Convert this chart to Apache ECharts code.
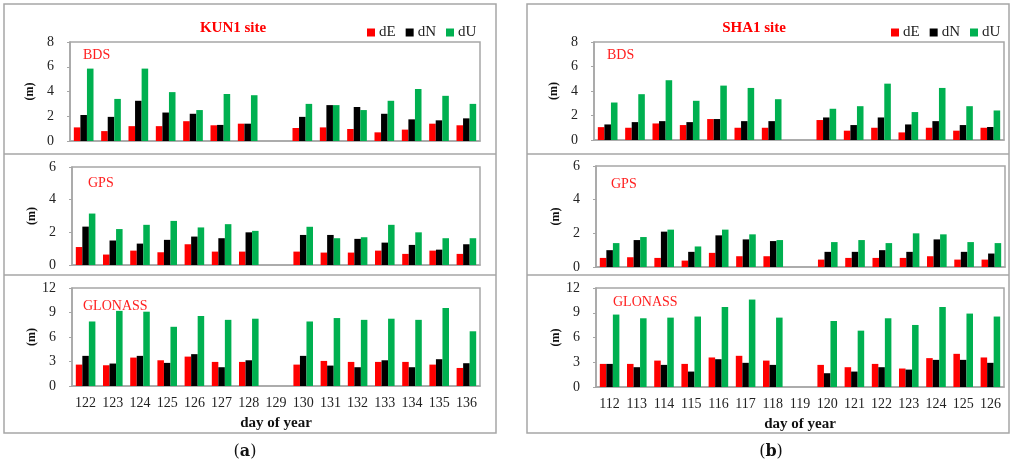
<!DOCTYPE html>
<html><head><meta charset="utf-8">
<script src="https://cdn.jsdelivr.net/npm/echarts@6/dist/echarts.min.js"></script>
<style>html,body{margin:0;padding:0;background:#fff}#c{width:1024px;height:466px}</style>
</head><body><div id="c"></div>
<script>
// ---------- data ----------
const daysA = ['122','123','124','125','126','127','128','129','130','131','132','133','134','135','136'];
const daysB = ['112','113','114','115','116','117','118','119','120','121','122','123','124','125','126'];

// KUN1 site
const kunBdsE = [1.1,0.8,1.2,1.2,1.6,1.27,1.4,null,1.05,1.1,0.97,0.7,0.92,1.4,1.27];
const kunBdsN = [2.1,1.95,3.25,2.3,2.2,1.3,1.4,null,1.95,2.9,2.75,2.2,1.75,1.67,1.83];
const kunBdsU = [5.85,3.4,5.85,3.95,2.5,3.8,3.7,null,3.0,2.9,2.5,3.25,4.2,3.65,3.0];
const kunGpsE = [1.1,0.64,0.88,0.78,1.27,0.82,0.82,null,0.82,0.76,0.76,0.88,0.68,0.88,0.68];
const kunGpsN = [2.35,1.5,1.31,1.54,1.74,1.64,2.0,null,1.84,1.84,1.6,1.37,1.23,0.94,1.27];
const kunGpsU = [3.15,2.2,2.46,2.7,2.3,2.5,2.09,null,2.34,1.64,1.7,2.46,2.0,1.64,1.64];
const kunGloE = [2.62,2.54,3.48,3.15,3.6,2.95,2.95,null,2.62,3.07,2.95,2.95,2.95,2.62,2.21];
const kunGloN = [3.69,2.75,3.69,2.83,3.9,2.3,3.15,null,3.69,2.5,2.3,3.15,2.3,3.28,2.79];
const kunGloU = [7.9,9.2,9.1,7.25,8.57,8.1,8.24,null,7.9,8.32,8.1,8.24,8.1,9.55,6.7];

// SHA1 site
const shaBdsE = [1.05,1.0,1.35,1.22,1.71,1.0,1.0,null,1.63,0.76,1.0,0.62,1.0,0.76,1.0];
const shaBdsN = [1.27,1.46,1.54,1.46,1.71,1.54,1.54,null,1.84,1.22,1.84,1.27,1.54,1.22,1.06];
const shaBdsU = [3.06,3.74,4.88,3.2,4.44,4.25,3.33,null,2.55,2.76,4.6,2.28,4.25,2.76,2.41];
const shaGpsE = [0.54,0.58,0.54,0.38,0.84,0.64,0.64,null,0.44,0.54,0.54,0.54,0.64,0.44,0.44];
const shaGpsN = [1.0,1.6,2.1,0.9,1.88,1.64,1.54,null,0.9,0.9,1.0,0.9,1.64,0.9,0.8];
const shaGpsU = [1.42,1.78,2.22,1.22,2.22,1.94,1.6,null,1.48,1.6,1.42,2.0,1.94,1.48,1.42];
const shaGloE = [2.8,2.8,3.2,2.8,3.58,3.78,3.2,null,2.68,2.4,2.8,2.24,3.5,4.02,3.58];
const shaGloN = [2.8,2.4,2.68,1.87,3.37,2.93,2.68,null,1.67,1.87,2.4,2.11,3.29,3.29,2.93];
const shaGloU = [8.78,8.33,8.41,8.54,9.7,10.6,8.41,null,8.0,6.83,8.33,7.52,9.7,8.9,8.54];

const yMax = [8, 6, 12];
const yStep = [2, 2, 3];
const panelNames = ['BDS', 'GPS', 'GLONASS'];
const compNames = ['dE', 'dN', 'dU'];
const siteTitles = ['KUN1 site', 'SHA1 site'];
const captions = ['a', 'b'];

// ---------- layout / style ----------
const SERIF = 'Liberation Serif';
const COLORS = ['#ff0000', '#000000', '#00b050'];
const GRAY = '#a6a6a6';
const grids = [
  {left: 70, top: 42, width: 410, height: 99},
  {left: 72, top: 167, width: 408, height: 98},
  {left: 72, top: 288, width: 408, height: 98},
  {left: 594, top: 42, width: 410, height: 98},
  {left: 596, top: 166, width: 409, height: 101},
  {left: 596, top: 288, width: 408, height: 99}
];
const dataSets = [
  [kunBdsE, kunBdsN, kunBdsU], [kunGpsE, kunGpsN, kunGpsU], [kunGloE, kunGloN, kunGloU],
  [shaBdsE, shaBdsN, shaBdsU], [shaGpsE, shaGpsN, shaGpsU], [shaGloE, shaGloN, shaGloU]
];

const xAxes = [], yAxes = [], series = [];
grids.forEach((g, i) => {
  const p = i % 3, site = Math.floor(i / 3);
  const bottom = p === 2;
  xAxes.push({
    type: 'category', gridIndex: i, data: site === 0 ? daysA : daysB,
    axisLine: {show: true, lineStyle: {color: GRAY, width: 1.5}},
    axisTick: {show: false},
    axisLabel: {show: bottom, interval: 0, margin: 10, fontFamily: SERIF, fontSize: 14, color: '#222'},
    name: bottom ? 'day of year' : '', nameLocation: 'middle', nameGap: 30,
    nameTextStyle: {fontFamily: SERIF, fontSize: 15, fontWeight: 'bold', color: '#111'}
  });
  yAxes.push({
    type: 'value', gridIndex: i, min: 0, max: yMax[p], interval: yStep[p],
    splitLine: {show: false},
    axisLine: {show: true, lineStyle: {color: GRAY, width: 1.5}},
    axisTick: {show: true, length: 3, lineStyle: {color: GRAY}},
    axisLabel: {margin: 16, fontFamily: SERIF, fontSize: 14, color: '#222'},
    name: '(m)', nameLocation: 'middle', nameGap: 34, nameRotate: 90,
    nameTextStyle: {fontFamily: SERIF, fontSize: 12, fontWeight: 'bold', color: '#111'}
  });
  dataSets[i].forEach((arr, k) => {
    series.push({
      type: 'bar', name: compNames[k], xAxisIndex: i, yAxisIndex: i, data: arr,
      barGap: '0%', barCategoryGap: '28%',
      itemStyle: {color: COLORS[k]}, animation: false
    });
  });
});

const graphic = [];
// panel borders and dividers
[[4, 492], [527, 482]].forEach(([x, w]) => {
  graphic.push({type: 'rect', shape: {x: x, y: 4, width: w, height: 429}, style: {fill: null, stroke: GRAY, lineWidth: 1.5}, silent: true});
  [154, 275].forEach(y => graphic.push({type: 'line', shape: {x1: x, y1: y, x2: x + w, y2: y}, style: {stroke: GRAY, lineWidth: 1.5}, silent: true}));
});
// site titles
[[233, 0], [754, 1]].forEach(([x, s]) => graphic.push({type: 'text', style: {text: siteTitles[s], x: x, y: 28, textAlign: 'center', textVerticalAlign: 'middle', font: 'bold 15px "' + SERIF + '"', fill: '#ff0000'}}));
// panel labels
const labelPos = [[83, 55], [88, 183], [83, 306], [607, 55], [611, 184], [613, 302]];
labelPos.forEach(([x, y], i) => graphic.push({type: 'text', style: {text: panelNames[i % 3], x: x, y: y, textAlign: 'left', textVerticalAlign: 'middle', font: '14px "' + SERIF + '"', fill: '#ff2020'}}));
// captions
[[245, 0], [771, 1]].forEach(([x, s]) => graphic.push({type: 'text', style: {
  text: '{n|(}{b|' + captions[s] + '}{n|)}', x: x, y: 452, textAlign: 'center', textVerticalAlign: 'middle',
  rich: {n: {fontFamily: 'DejaVu Serif', fontSize: 16, fill: '#111'}, b: {fontFamily: 'DejaVu Serif', fontSize: 16, fontWeight: 'bold', fill: '#111'}}
}}));

const legendBase = {
  data: compNames, itemWidth: 8, itemHeight: 8, itemGap: 10, icon: 'rect', top: 20,
  textStyle: {fontFamily: SERIF, fontSize: 15, color: '#222', padding: [0, 0, 0, -1]}, selectedMode: false
};

const chart = echarts.init(document.getElementById('c'), null, {renderer: 'canvas'});
chart.setOption({
  backgroundColor: '#ffffff',
  animation: false,
  legend: [Object.assign({left: 362}, legendBase), Object.assign({left: 886}, legendBase)],
  grid: grids.map(g => Object.assign({show: true, borderColor: GRAY, borderWidth: 1.5, containLabel: false}, g)),
  xAxis: xAxes, yAxis: yAxes, series: series, graphic: graphic
});
</script></body></html>
